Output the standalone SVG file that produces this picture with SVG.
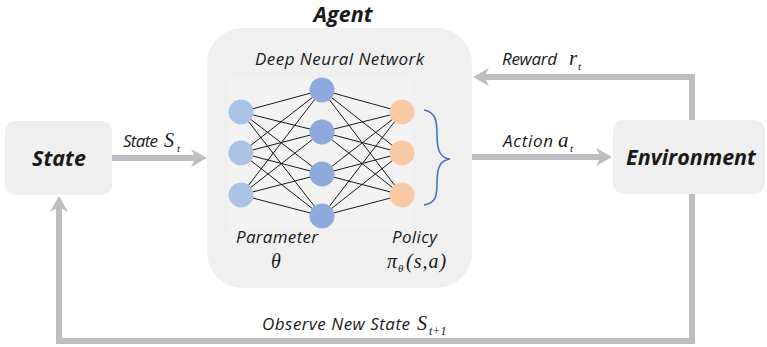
<svg xmlns="http://www.w3.org/2000/svg" width="767" height="347" viewBox="0 0 767 347">
<style>
.box{fill:#efefef;}
.lbl{font-family:"Open Sans","Liberation Sans",sans-serif;font-style:italic;fill:#1a1a1a;font-size:17px;}
.big{font-family:"Open Sans","Liberation Sans",sans-serif;font-style:italic;font-weight:bold;fill:#1a1a1a;font-size:21.5px;}
.math{font-family:"Liberation Serif","DejaVu Serif",serif;font-style:italic;fill:#1a1a1a;}
.conn{fill:none;stroke:#bdbdc2;stroke-width:6;}
.nn line{stroke:#1a1a1a;stroke-width:1;}
.in{fill:#adc3e6;}
.hid{fill:#8eaadc;}
.out{fill:#f9c9a6;}
</style>
<defs>
<marker id="ah" markerUnits="userSpaceOnUse" markerWidth="16" markerHeight="18" refX="6" refY="9" orient="auto">
<path d="M0,0 L16,9 L0,18 L5,9 z" fill="#bdbdc2"/>
</marker>
</defs>

<g id="connectors">
<path class="conn" d="M112,158 H197" marker-end="url(#ah)"/>
<path class="conn" d="M472,157 H602" marker-end="url(#ah)"/>
<path class="conn" d="M692,120 V77 H483" marker-end="url(#ah)"/>
<path class="conn" d="M692,194 V341 H59 V206" marker-end="url(#ah)"/>
<text class="lbl" x="123" y="147" textLength="35">State</text>
<text class="math" x="164" y="147" font-size="20">S</text>
<text class="math" x="177" y="152" font-size="11">t</text>
<text class="lbl" x="503" y="147" textLength="50">Action</text>
<text class="math" x="558" y="147" font-size="21">a</text>
<text class="math" x="570" y="152" font-size="11">t</text>
<text class="lbl" x="502" y="65" textLength="55">Reward</text>
<text class="math" x="569" y="65" font-size="21">r</text>
<text class="math" x="578" y="70" font-size="11">t</text>
<text class="lbl" x="262" y="330" textLength="148">Observe New State</text>
<text class="math" x="417" y="330" font-size="20">S</text>
<text class="math" x="429" y="335" font-size="12">t+1</text>
</g>

<g id="state">
<rect class="box" x="5" y="121" width="107" height="74" rx="11"/>
<text class="big" x="59" y="166" text-anchor="middle">State</text>
</g>

<g id="environment">
<rect class="box" x="613" y="120" width="152" height="74" rx="11"/>
<text class="big" x="691" y="165" text-anchor="middle">Environment</text>
</g>

<g id="agent">
<text class="big" x="343" y="22" text-anchor="middle">Agent</text>
<rect x="207" y="28" width="265" height="260" rx="36" fill="#f0f0f0"/>
<rect x="228" y="78" width="185" height="152" fill="#f3f3f3"/>
<text class="lbl" x="255" y="65" textLength="169">Deep Neural Network</text>
<g class="nn">
<line x1="241" y1="112" x2="322" y2="90"/><line x1="241" y1="112" x2="322" y2="132"/><line x1="241" y1="112" x2="322" y2="174"/><line x1="241" y1="112" x2="322" y2="216"/>
<line x1="241" y1="153" x2="322" y2="90"/><line x1="241" y1="153" x2="322" y2="132"/><line x1="241" y1="153" x2="322" y2="174"/><line x1="241" y1="153" x2="322" y2="216"/>
<line x1="241" y1="195" x2="322" y2="90"/><line x1="241" y1="195" x2="322" y2="132"/><line x1="241" y1="195" x2="322" y2="174"/><line x1="241" y1="195" x2="322" y2="216"/>
<line x1="322" y1="90" x2="402" y2="112"/><line x1="322" y1="90" x2="402" y2="153"/><line x1="322" y1="90" x2="402" y2="195"/>
<line x1="322" y1="132" x2="402" y2="112"/><line x1="322" y1="132" x2="402" y2="153"/><line x1="322" y1="132" x2="402" y2="195"/>
<line x1="322" y1="174" x2="402" y2="112"/><line x1="322" y1="174" x2="402" y2="153"/><line x1="322" y1="174" x2="402" y2="195"/>
<line x1="322" y1="216" x2="402" y2="112"/><line x1="322" y1="216" x2="402" y2="153"/><line x1="322" y1="216" x2="402" y2="195"/>
</g>
<circle class="in" cx="241" cy="112" r="12.5"/>
<circle class="in" cx="241" cy="153" r="12.5"/>
<circle class="in" cx="241" cy="195" r="12.5"/>
<circle class="hid" cx="322" cy="90" r="12.5"/>
<circle class="hid" cx="322" cy="132" r="12.5"/>
<circle class="hid" cx="322" cy="174" r="12.5"/>
<circle class="hid" cx="322" cy="216" r="12.5"/>
<circle class="out" cx="402" cy="112" r="12.5"/>
<circle class="out" cx="402" cy="153" r="12.5"/>
<circle class="out" cx="402" cy="195" r="12.5"/>
<path d="M424,110 C436,112 437,122 437,135 C437,150 440,158 450,159 C440,160 437,168 437,183 C437,196 436,203 424,205" fill="none" stroke="#4472c4" stroke-width="1.6"/>
<text class="lbl" x="236" y="243" textLength="82">Parameter</text>
<text class="math" x="276" y="268" font-size="20" text-anchor="middle">θ</text>
<text class="lbl" x="392" y="243" textLength="45">Policy</text>
<text class="math" x="387" y="268" font-size="20">π</text>
<text class="math" x="398" y="272" font-size="11">θ</text>
<text class="math" x="406" y="268" font-size="20" letter-spacing="1">(s,a)</text>
</g>
</svg>
